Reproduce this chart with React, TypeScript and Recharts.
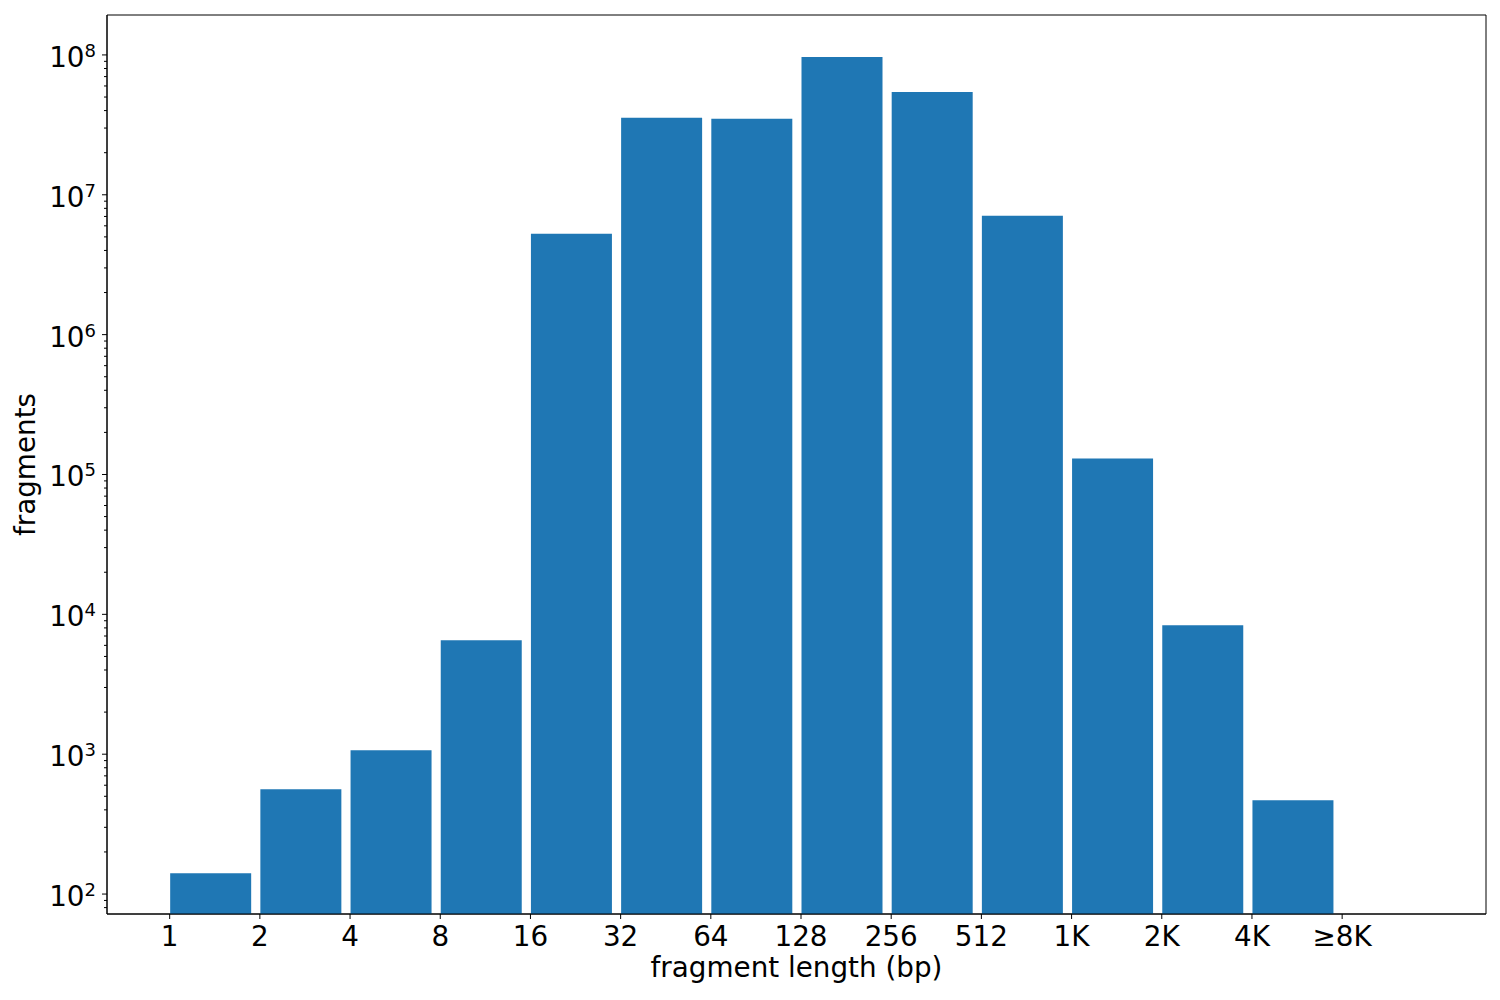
import React from "react";
import {
  BarChart,
  Bar,
  XAxis,
  YAxis,
  ReferenceArea,
} from "recharts";

// fragment-length bins (log2 steps) and their counts
const LENGTH_LABELS = ["1", "2", "4", "8", "16", "32", "64", "128", "256", "512", "1K", "2K", "4K", "≥8K"];
const FRAGMENT_COUNTS = [141, 562, 1069, 6520, 5.26e6, 3.55e7, 3.49e7, 9.68e7, 5.44e7, 7.08e6, 1.3e5, 8340, 469];
const Y_EXPONENTS = [2, 3, 4, 5, 6, 7, 8];

const X_DOMAIN: [number, number] = [-0.695, 14.595];
const Y_DOMAIN: [number, number] = [72, 1.93e8];
const BAR_COLOR = "#1f77b4";
const FONT = "'DejaVu Sans', sans-serif";
const FS = 27.8;

// bars are left-aligned on their tick (matplotlib align="edge", width 0.9)
const chartData = LENGTH_LABELS.map((label, i) => ({
  label,
  pos: i + 0.45,
  count: FRAGMENT_COUNTS[i] ?? null,
}));

// major + minor ticks for the log axis
const yTicks: number[] = [];
for (let e = 1; e <= 8; e++) {
  for (let k = 1; k <= 9; k++) {
    const v = k * Math.pow(10, e);
    if (v >= Y_DOMAIN[0] && v <= Y_DOMAIN[1]) yTicks.push(v);
  }
}

function LogTick(props: any) {
  const { x, y, payload } = props;
  const v = payload.value as number;
  const exp = Math.round(Math.log10(v));
  const major = Y_EXPONENTS.includes(exp) && Math.abs(Math.pow(10, exp) - v) < 1e-6 * v;
  return (
    <g>
      <line x1={x - (major ? 5 : 3)} x2={x} y1={y} y2={y} stroke="#000" strokeWidth={1} />
      {major && (
        <text x={x - 11} y={y + 12} textAnchor="end" fontSize={FS} fill="#000" fontFamily={FONT}>
          10
          <tspan dy={-10} fontSize={18}>
            {exp}
          </tspan>
        </text>
      )}
    </g>
  );
}

function YTitle(props: any) {
  const { viewBox } = props;
  const cx = viewBox.x + 35;
  const cy = viewBox.y + viewBox.height / 2;
  return (
    <text x={cx} y={cy} transform={`rotate(-90, ${cx}, ${cy})`} textAnchor="middle" fontSize={FS} fill="#000" fontFamily={FONT}>
      fragments
    </text>
  );
}

function XTitle(props: any) {
  const { viewBox } = props;
  return (
    <text x={viewBox.x + viewBox.width / 2} y={viewBox.y + 63} textAnchor="middle" fontSize={FS} fill="#000" fontFamily={FONT}>
      fragment length (bp)
    </text>
  );
}

export default function App() {
  return (
    <div style={{ position: "absolute", left: 0, top: 0, width: 1500, height: 1000, background: "#fff", fontFamily: FONT }}>
      <BarChart
        width={1500}
        height={1000}
        data={chartData}
        margin={{ top: 15, right: 14, left: 0, bottom: 0 }}
      >
        <XAxis
          dataKey="pos"
          type="number"
          domain={X_DOMAIN}
          allowDataOverflow
          ticks={LENGTH_LABELS.map((_, i) => i)}
          interval={0}
          tickFormatter={(v: number) => LENGTH_LABELS[v] ?? ""}
          height={86}
          tickSize={5}
          tickMargin={7}
          tick={{ fontSize: FS, fill: "#000", fontFamily: FONT }}
          tickLine={{ stroke: "#000" }}
          axisLine={{ stroke: "#000" }}
          label={<XTitle />}
        />
        <YAxis
          scale="log"
          domain={Y_DOMAIN}
          allowDataOverflow
          ticks={yTicks}
          interval={0}
          width={107}
          tickSize={0}
          tickMargin={0}
          tickLine={false}
          tick={<LogTick />}
          axisLine={{ stroke: "#000" }}
          label={<YTitle />}
        />
        <ReferenceArea
          x1={X_DOMAIN[0]}
          x2={X_DOMAIN[1]}
          y1={Y_DOMAIN[0]}
          y2={Y_DOMAIN[1]}
          fill="none"
          stroke="#000"
          strokeWidth={1}
          ifOverflow="visible"
        />
        <Bar dataKey="count" fill={BAR_COLOR} barSize={81} isAnimationActive={false} />
      </BarChart>
    </div>
  );
}
